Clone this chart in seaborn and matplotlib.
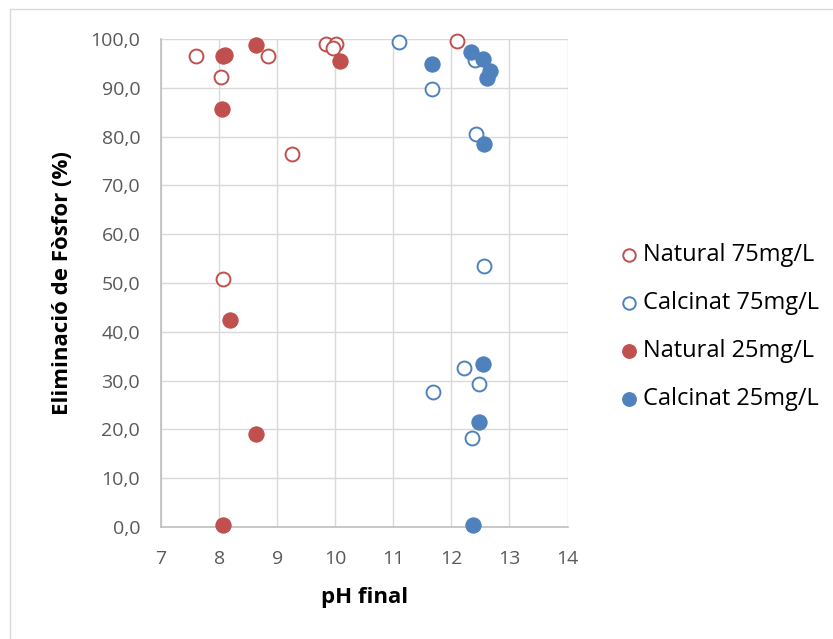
import matplotlib
matplotlib.use("Agg")
import matplotlib.pyplot as plt
import seaborn as sns
import pandas as pd
from matplotlib.patches import Rectangle
from matplotlib.ticker import FuncFormatter

# Data
nat75_ph = [7.60, 8.03, 8.84, 9.26, 9.84, 10.02, 9.97, 12.09, 8.07]
nat75_el = [96.5, 92.2, 96.5, 76.4, 99.0, 99.0, 98.2, 99.6, 50.9]

cal75_ph = [11.10, 11.67, 12.41, 12.43, 12.57, 12.21, 12.48, 11.68, 12.35]
cal75_el = [99.3, 89.7, 95.7, 80.5, 53.4, 32.5, 29.4, 27.7, 18.3]

nat25_ph = [8.07, 8.10, 8.63, 10.08, 8.05, 8.18, 8.64, 8.06]
nat25_el = [96.5, 96.7, 98.8, 95.4, 85.7, 42.4, 19.0, 0.35]

cal25_ph = [11.66, 12.34, 12.55, 12.67, 12.61, 12.57, 12.54, 12.48, 12.37]
cal25_el = [94.9, 97.3, 96.0, 93.5, 92.1, 78.4, 33.4, 21.5, 0.35]

series_names = ["Natural 75mg/L", "Calcinat 75mg/L", "Natural 25mg/L", "Calcinat 25mg/L"]
x_ticks = [7, 8, 9, 10, 11, 12, 13, 14]
y_ticks = [0, 10, 20, 30, 40, 50, 60, 70, 80, 90, 100]

RED = "#C0504D"
BLUE = "#4F81BD"

sns.set_theme(style="white")
plt.rcParams["font.family"] = ["Open Sans", "DejaVu Sans"]

fig = plt.figure(figsize=(8.33, 6.39), dpi=100)
W, H = 833, 639
AX_L, AX_R, AX_T, AX_B = 161, 567.5, 39, 527
ax = fig.add_axes([AX_L / W, 1 - AX_B / H, (AX_R - AX_L) / W, (AX_B - AX_T) / H])

# outer chart border
fig.patches.append(Rectangle((10 / W, -0.1), 1.2, (1 - 9 / H) + 0.1, transform=fig.transFigure,
                             fill=False, edgecolor="#D9D9D9", linewidth=1.0, zorder=0))

data = [
    (nat75_ph, nat75_el, RED, False),
    (cal75_ph, cal75_el, BLUE, False),
    (nat25_ph, nat25_el, RED, True),
    (cal25_ph, cal25_el, BLUE, True),
]
for name, (xs, ys, col, filled) in zip(series_names, data):
    df = pd.DataFrame({"pH": xs, "El": ys})
    if filled:
        sns.scatterplot(data=df, x="pH", y="El", ax=ax, s=120, color=col,
                        edgecolor=col, linewidth=0.8, label=name, zorder=3, clip_on=False)
    else:
        sns.scatterplot(data=df, x="pH", y="El", ax=ax, s=100, facecolor="white",
                        edgecolor=col, linewidth=1.4, label=name, zorder=3, clip_on=False)

ax.set_xlim(7, 14)
ax.set_ylim(0, 100)
ax.set_xticks(x_ticks)
ax.set_yticks(y_ticks)
ax.yaxis.set_major_formatter(FuncFormatter(lambda v, p: f"{v:.1f}".replace(".", ",")))
ax.grid(True, color="#D9D9D9", linewidth=1.0)
ax.set_axisbelow(True)
for s in ["top", "right"]:
    ax.spines[s].set_visible(False)
for s in ["left", "bottom"]:
    ax.spines[s].set_color("#BFBFBF")
    ax.spines[s].set_linewidth(1.2)
ax.tick_params(axis="both", length=0, labelsize=14, colors="#595959")
ax.tick_params(axis="y", pad=15)
ax.tick_params(axis="x", pad=16.5)

ax.set_xlabel("pH final", fontsize=16, fontweight="bold", color="black")
ax.set_ylabel("Eliminació de Fòsfor (%)", fontsize=16, fontweight="bold", color="black")
ax.xaxis.set_label_coords(0.5, (AX_B - 597) / (AX_B - AX_T))
ax.xaxis.label.set_verticalalignment("center")
ax.yaxis.set_label_coords((63 - AX_L) / (AX_R - AX_L), 0.5)
ax.yaxis.label.set_verticalalignment("center")

leg = ax.legend(loc="center left", bbox_to_anchor=(617 / W, 1 - 327 / H),
                bbox_transform=fig.transFigure, frameon=False, fontsize=17,
                handletextpad=0.1, handlelength=1.0, labelspacing=1.02,
                markerscale=0.9, borderaxespad=0, borderpad=0)
for t in leg.get_texts():
    t.set_color("black")

fig.savefig("out.png", dpi=100)
